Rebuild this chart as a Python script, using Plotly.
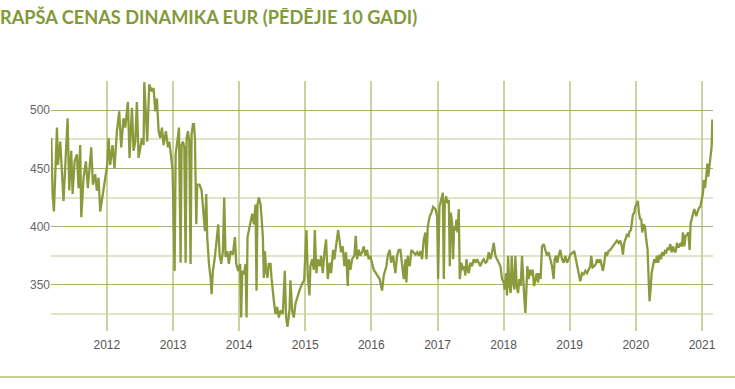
import datetime as dt
import plotly.graph_objects as go

# Rapeseed price, EUR/t — time as decimal years
t_2011_2012 = [2011.159, 2011.179, 2011.199, 2011.245, 2011.260, 2011.295, 2011.345, 2011.371, 2011.406, 2011.431,
               2011.461, 2011.482, 2011.512, 2011.547, 2011.572, 2011.597, 2011.613, 2011.648, 2011.683, 2011.713,
               2011.734, 2011.764, 2011.789, 2011.824, 2011.849, 2011.875, 2011.900, 2011.935, 2011.975, 2012.006,
               2012.026, 2012.051, 2012.086, 2012.116, 2012.152, 2012.187, 2012.217, 2012.252, 2012.278, 2012.318,
               2012.343, 2012.379, 2012.404, 2012.429, 2012.454, 2012.479, 2012.530, 2012.555, 2012.565, 2012.590,
               2012.610, 2012.640, 2012.681, 2012.706, 2012.731, 2012.756, 2012.782, 2012.807, 2012.832, 2012.857,
               2012.892, 2012.923, 2012.943, 2012.973, 2012.993]
v_2011_2012 = [476, 428, 413, 485, 453, 473, 422, 459, 493, 431,
               465, 428, 456, 462, 433, 470, 408, 442, 456, 433,
               450, 468, 436, 445, 431, 442, 413, 425, 442, 453,
               476, 453, 470, 450, 482, 499, 468, 493, 485, 507,
               459, 502, 465, 473, 507, 459, 476, 470, 524, 499,
               473, 522, 516, 519, 499, 510, 482, 476, 485, 470,
               482, 468, 473, 459, 448]

t_2013_2014 = [2013.023, 2013.039, 2013.064, 2013.089, 2013.114, 2013.129, 2013.149, 2013.170, 2013.190, 2013.205,
               2013.225, 2013.245, 2013.265, 2013.280, 2013.301, 2013.316, 2013.331, 2013.351, 2013.366, 2013.401,
               2013.432, 2013.452, 2013.482, 2013.502, 2013.517, 2013.543, 2013.568, 2013.583, 2013.603, 2013.633,
               2013.658, 2013.684, 2013.704, 2013.729, 2013.754, 2013.774, 2013.794, 2013.820, 2013.845, 2013.870,
               2013.905, 2013.936, 2013.956, 2013.986, 2014.016, 2014.031, 2014.046, 2014.072, 2014.097, 2014.112,
               2014.127, 2014.147, 2014.172, 2014.198, 2014.223, 2014.248, 2014.263, 2014.278, 2014.298, 2014.324,
               2014.339, 2014.359, 2014.374, 2014.389, 2014.409, 2014.429, 2014.449, 2014.475, 2014.490, 2014.510,
               2014.530, 2014.550, 2014.575, 2014.601, 2014.626, 2014.661, 2014.691, 2014.711, 2014.732, 2014.762,
               2014.777, 2014.802, 2014.827, 2014.853, 2014.878, 2014.913, 2014.953, 2014.984]
v_2013_2014 = [362, 462, 473, 485, 369, 470, 473, 468, 369, 476,
               482, 473, 368, 479, 488, 488, 476, 402, 436, 436,
               431, 416, 396, 428, 391, 368, 356, 342, 362, 374,
               391, 402, 376, 368, 379, 425, 374, 379, 368, 379,
               376, 391, 368, 362, 368, 322, 362, 359, 368, 322,
               391, 396, 405, 411, 402, 419, 345, 419, 425, 419,
               408, 391, 356, 379, 362, 356, 368, 368, 356, 342,
               334, 325, 331, 322, 328, 325, 362, 322, 314, 328,
               354, 328, 322, 334, 339, 345, 351, 354]

t_2015_2016 = [2015.019, 2015.039, 2015.064, 2015.079, 2015.105, 2015.130, 2015.145, 2015.170, 2015.190, 2015.220,
               2015.241, 2015.266, 2015.291, 2015.316, 2015.341, 2015.372, 2015.392, 2015.422, 2015.442, 2015.472,
               2015.498, 2015.518, 2015.543, 2015.568, 2015.593, 2015.618, 2015.644, 2015.659, 2015.684, 2015.709,
               2015.744, 2015.765, 2015.785, 2015.810, 2015.835, 2015.860, 2015.886, 2015.911, 2015.936, 2015.961,
               2015.986, 2016.037, 2016.087, 2016.127, 2016.163, 2016.188, 2016.228, 2016.248, 2016.278, 2016.299,
               2016.329, 2016.364, 2016.389, 2016.414, 2016.440, 2016.465, 2016.490, 2016.515, 2016.530, 2016.550,
               2016.581, 2016.606, 2016.631, 2016.666, 2016.692, 2016.717, 2016.742, 2016.767, 2016.792, 2016.818,
               2016.833, 2016.853, 2016.883, 2016.908, 2016.934]
v_2015_2016 = [397, 358, 341, 366, 372, 363, 397, 360, 372, 366,
               375, 360, 378, 389, 355, 369, 360, 380, 372, 386,
               397, 389, 378, 383, 366, 378, 349, 372, 363, 372,
               375, 392, 372, 380, 375, 378, 383, 375, 380, 372,
               375, 363, 358, 355, 345, 358, 366, 375, 380, 369,
               375, 360, 375, 380, 380, 369, 355, 372, 352, 375,
               366, 380, 378, 376, 378, 375, 379, 372, 389, 395,
               372, 400, 409, 412, 417]

t_2017_2018 = [2016.969, 2016.994, 2017.009, 2017.029, 2017.060, 2017.080, 2017.095, 2017.110, 2017.130, 2017.150,
               2017.171, 2017.186, 2017.201, 2017.221, 2017.236, 2017.251, 2017.271, 2017.286, 2017.302, 2017.322,
               2017.337, 2017.362, 2017.382, 2017.402, 2017.422, 2017.438, 2017.458, 2017.473, 2017.498, 2017.523,
               2017.548, 2017.574, 2017.599, 2017.624, 2017.649, 2017.674, 2017.700, 2017.725, 2017.750, 2017.775,
               2017.800, 2017.826, 2017.851, 2017.876, 2017.901, 2017.926, 2017.952, 2017.977, 2018.002, 2018.017,
               2018.037, 2018.052, 2018.068, 2018.088, 2018.108, 2018.123, 2018.143, 2018.163, 2018.178, 2018.199,
               2018.219, 2018.239, 2018.259, 2018.279, 2018.299, 2018.314, 2018.330, 2018.345, 2018.360, 2018.380,
               2018.400, 2018.420, 2018.440, 2018.461, 2018.481, 2018.501, 2018.521, 2018.541, 2018.561, 2018.581,
               2018.607, 2018.632, 2018.657, 2018.682, 2018.707, 2018.733, 2018.758, 2018.773, 2018.793, 2018.813,
               2018.833, 2018.859, 2018.884, 2018.909, 2018.934, 2018.960, 2018.985, 2019.010]
v_2017_2018 = [415, 409, 355, 417, 423, 429, 355, 420, 426, 420,
               423, 366, 412, 403, 372, 400, 397, 406, 395, 415,
               355, 369, 363, 366, 358, 372, 363, 360, 369, 366,
               372, 369, 372, 369, 366, 370, 372, 369, 370, 378,
               372, 378, 386, 375, 372, 369, 366, 355, 352, 346,
               360, 341, 375, 349, 343, 375, 352, 346, 375, 349,
               343, 355, 349, 375, 346, 338, 326, 346, 366, 355,
               363, 358, 363, 349, 355, 360, 352, 360, 355, 383,
               385, 380, 375, 378, 372, 366, 355, 372, 375, 369,
               375, 380, 372, 369, 375, 369, 372, 376]

t_2019_2021 = [2019.070, 2019.086, 2019.111, 2019.136, 2019.161, 2019.186, 2019.212, 2019.237, 2019.262, 2019.287,
               2019.312, 2019.327, 2019.348, 2019.373, 2019.398, 2019.413, 2019.438, 2019.463, 2019.489, 2019.504,
               2019.524, 2019.544, 2019.564, 2019.589, 2019.615, 2019.640, 2019.665, 2019.690, 2019.715, 2019.741,
               2019.766, 2019.791, 2019.806, 2019.826, 2019.846, 2019.867, 2019.892, 2019.907, 2019.927, 2019.942,
               2019.957, 2019.977, 2019.993, 2020.018, 2020.033, 2020.048, 2020.068, 2020.083, 2020.098, 2020.119,
               2020.139, 2020.159, 2020.179, 2020.199, 2020.209, 2020.224, 2020.240, 2020.260, 2020.280, 2020.300,
               2020.320, 2020.340, 2020.360, 2020.381, 2020.401, 2020.421, 2020.441, 2020.461, 2020.481, 2020.502,
               2020.522, 2020.542, 2020.562, 2020.582, 2020.602, 2020.622, 2020.648, 2020.673, 2020.698, 2020.713,
               2020.733, 2020.753, 2020.774, 2020.794, 2020.814, 2020.829, 2020.849, 2020.864, 2020.884, 2020.900,
               2020.915, 2020.935, 2020.955, 2020.975, 2021.000, 2021.016, 2021.026, 2021.046, 2021.066, 2021.081,
               2021.096, 2021.116, 2021.131, 2021.147, 2021.157]
v_2019_2021 = [379, 375, 366, 360, 353, 360, 359, 362, 360, 363,
               366, 375, 365, 366, 368, 372, 369, 372, 366, 362,
               369, 378, 375, 379, 380, 382, 383, 386, 388, 386,
               388, 383, 376, 386, 389, 393, 392, 396, 397, 403,
               410, 412, 417, 420, 422, 412, 406, 407, 395, 402,
               400, 389, 380, 349, 336, 346, 360, 366, 372, 369,
               375, 369, 376, 372, 378, 375, 379, 378, 382, 380,
               385, 378, 383, 379, 378, 386, 382, 385, 383, 395,
               383, 392, 393, 395, 380, 403, 407, 412, 415, 412,
               409, 413, 416, 417, 426, 429, 440, 433, 444, 454,
               443, 453, 460, 469, 492]

y_tick_vals = [350, 400, 450, 500]
y_minor_vals = [325, 375, 425, 475, 525]
title_text = "RAPŠA CENAS DINAMIKA EUR (PĒDĒJIE 10 GADI)"


def to_date(t):
    year = int(t)
    start = dt.datetime(year, 1, 1)
    days = (dt.datetime(year + 1, 1, 1) - start).days
    return start + dt.timedelta(days=(t - year) * days)


t_all = t_2011_2012 + t_2013_2014 + t_2015_2016 + t_2017_2018 + t_2019_2021
v_all = v_2011_2012 + v_2013_2014 + v_2015_2016 + v_2017_2018 + v_2019_2021
dates = [to_date(t) for t in t_all]

LINE = "#8b9a3c"
fig = go.Figure(go.Scatter(x=dates, y=v_all, mode="lines",
                           line=dict(color=LINE, width=2.3), hoverinfo="x+y"))

W, H = 735, 389
ml, mr, mt, mb = 51, 22, 81, 58
fig.update_layout(
    width=W, height=H,
    margin=dict(l=ml, r=mr, t=mt, b=mb),
    paper_bgcolor="white", plot_bgcolor="white",
    showlegend=False,
    title=dict(text=title_text, xref="container", yref="container", x=0.0, xanchor="left",
               y=1 - 18 / H, yanchor="middle",
               font=dict(family="Lato", size=18.2, color="#82993a", weight="bold")),
    xaxis=dict(type="date", range=[to_date(2011.155), to_date(2021.167)],
               tick0="2012-01-01", dtick="M12", tickformat="%Y",
               showgrid=True, gridcolor="#cbd2a0", gridwidth=1.5,
               ticks="", showline=False, zeroline=False, ticklabelstandoff=5,
               tickfont=dict(family="Liberation Sans, Arial", size=12, color="#555555")),
    yaxis=dict(range=[310.4, 525], tickmode="array", tickvals=y_tick_vals,
               showgrid=True, gridcolor="#a7b16b", gridwidth=1,
               minor=dict(tickmode="array", tickvals=y_minor_vals, showgrid=True,
                          gridcolor="#e1e5c8", gridwidth=2, ticks=""),
               ticks="", showline=False, zeroline=False, ticklabelstandoff=0,
               tickfont=dict(family="Liberation Sans, Arial", size=12, color="#666666")),
)

pw = W - ml - mr
ph = H - mt - mb
fig.add_shape(type="line", xref="paper", yref="paper",
              x0=-ml / pw, x1=1 + mr / pw,
              y0=-(377 - (H - mb)) / ph, y1=-(377 - (H - mb)) / ph,
              line=dict(color="#c7cf9a", width=2))

fig.write_html("out.html", config={"displayModeBar": False},
               post_script="document.body.style.margin='0';")
